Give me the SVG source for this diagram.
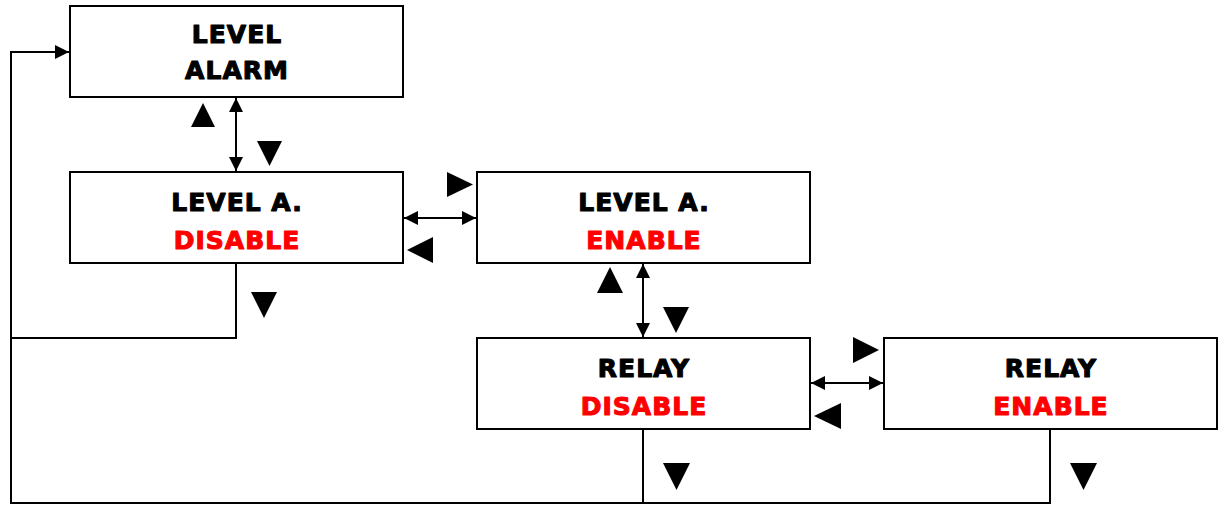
<svg xmlns="http://www.w3.org/2000/svg" width="1226" height="505" viewBox="0 0 1226 505">
<style>
.box{fill:#fff;stroke:#000;stroke-width:2}
.ln{fill:none;stroke:#000;stroke-width:2}
.t{font-family:"DejaVu Sans",sans-serif;font-weight:bold;font-size:25px;text-anchor:middle;letter-spacing:1px;stroke-width:1.1px;stroke-linejoin:round}
.k{fill:#000;stroke:#000}
.r{fill:#ff0000;stroke:#ff0000}
.tri{fill:#000}
</style>
<defs>
<marker id="ah" viewBox="0 0 14 14" refX="14" refY="7" markerWidth="14" markerHeight="14" markerUnits="userSpaceOnUse" orient="auto-start-reverse">
<path d="M0,0 L14,7 L0,14 Z" fill="#000"/>
</marker>
</defs>
<g id="connectors">
<line class="ln" x1="236" y1="98" x2="236" y2="171" marker-start="url(#ah)" marker-end="url(#ah)"/>
<line class="ln" x1="404" y1="218" x2="476" y2="218" marker-start="url(#ah)" marker-end="url(#ah)"/>
<line class="ln" x1="643" y1="264" x2="643" y2="337" marker-start="url(#ah)" marker-end="url(#ah)"/>
<line class="ln" x1="811" y1="383" x2="883" y2="383" marker-start="url(#ah)" marker-end="url(#ah)"/>
<polyline class="ln" points="236,263 236,338 11,338"/>
<polyline class="ln" points="643,429 643,503"/>
<polyline class="ln" points="1050,429 1050,503 11,503 11,52 69,52" marker-end="url(#ah)"/>
<polygon class="tri" points="203,103 191,127 215,127"/>
<polygon class="tri" points="257,141 282,141 269.5,166"/>
<polygon class="tri" points="447,172 447,197 473,184.5"/>
<polygon class="tri" points="433,237 433,263 407,250"/>
<polygon class="tri" points="251,292 277,292 264,318"/>
<polygon class="tri" points="610,267 597,293 623,293"/>
<polygon class="tri" points="663,307 689,307 676,333"/>
<polygon class="tri" points="853,337 853,363 879,350"/>
<polygon class="tri" points="841,403 841,429 814,416"/>
<polygon class="tri" points="663,463 690,463 676.5,490"/>
<polygon class="tri" points="1070,463 1097,463 1083.5,490"/>
</g>
<g id="level-alarm">
<rect class="box" x="70" y="6" width="333" height="91"/>
<text class="t k" x="237" y="43">LEVEL</text>
<text class="t k" x="237" y="79">ALARM</text>
</g>
<g id="level-a-disable">
<rect class="box" x="70" y="172" width="333" height="91"/>
<text class="t k" x="237" y="211">LEVEL A.</text>
<text class="t r" x="237" y="249">DISABLE</text>
</g>
<g id="level-a-enable">
<rect class="box" x="477" y="172" width="333" height="91"/>
<text class="t k" x="644" y="211">LEVEL A.</text>
<text class="t r" x="644" y="249">ENABLE</text>
</g>
<g id="relay-disable">
<rect class="box" x="477" y="338" width="333" height="91"/>
<text class="t k" x="644" y="377">RELAY</text>
<text class="t r" x="644" y="415">DISABLE</text>
</g>
<g id="relay-enable">
<rect class="box" x="884" y="338" width="333" height="91"/>
<text class="t k" x="1051" y="377">RELAY</text>
<text class="t r" x="1051" y="415">ENABLE</text>
</g>
</svg>
